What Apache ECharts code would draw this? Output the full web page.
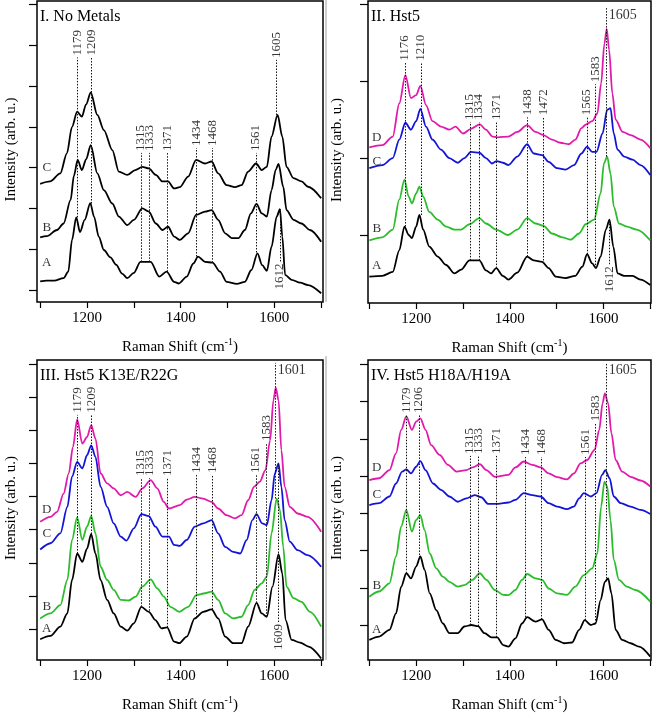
<!DOCTYPE html>
<html>
<head>
<meta charset="utf-8">
<script src="https://cdn.jsdelivr.net/npm/echarts@6/dist/echarts.min.js"></script>
<style>
  html, body { margin: 0; padding: 0; background: #fff; }
  #main { width: 655px; height: 718px; }
</style>
</head>
<body>
<div id="main"></div>
<script>
var chart = echarts.init(document.getElementById('main'));
var FONT = 'Liberation Serif';

var BLACK = '#000000', GREEN = '#2bbd2b', BLUE = '#1414d8', PINK = '#e21aab';

// ---- I. No Metals ----
var noMetalA = [[1100,0.21],[1114,0.23],[1130,0.23],[1150,0.29],[1160,0.45],[1168,1.23],[1177,1.78],[1185,1.42],[1195,1.72],[1207,2.13],[1215,1.80],[1225,1.31],[1236,0.98],[1250,0.80],[1262,0.62],[1275,0.40],[1286,0.29],[1300,0.42],[1314,0.69],[1325,0.69],[1336,0.69],[1354,0.33],[1370,0.45],[1386,0.20],[1396,0.16],[1413,0.33],[1427,0.65],[1437,0.82],[1452,0.69],[1468,0.67],[1484,0.45],[1498,0.20],[1520,0.15],[1537,0.20],[1551,0.49],[1564,0.90],[1574,0.61],[1584,0.47],[1594,1.06],[1605,1.80],[1612,1.98],[1617,1.31],[1623,0.37],[1637,0.25],[1655,0.18],[1672,0.12],[1700,-0.08]];
var noMetalB = [[1100,1.29],[1114,1.32],[1136,1.47],[1150,1.63],[1165,2.21],[1172,2.80],[1180,3.19],[1189,2.94],[1198,3.20],[1208,3.55],[1222,2.86],[1236,2.45],[1254,2.12],[1268,1.80],[1286,1.59],[1300,1.72],[1318,2.00],[1332,1.92],[1347,1.63],[1361,1.47],[1373,1.55],[1386,1.31],[1398,1.23],[1416,1.39],[1433,1.84],[1452,1.92],[1466,1.96],[1480,1.72],[1495,1.39],[1509,1.27],[1523,1.27],[1537,1.47],[1550,1.88],[1562,2.11],[1573,1.88],[1584,1.80],[1594,2.45],[1603,2.95],[1609,3.09],[1619,2.53],[1626,1.96],[1641,1.72],[1658,1.63],[1676,1.47],[1700,1.18]];
var noMetalC = [[1100,2.60],[1121,2.66],[1143,2.86],[1157,3.35],[1168,4.00],[1179,4.37],[1189,4.25],[1198,4.55],[1208,4.84],[1222,4.29],[1236,3.92],[1254,3.43],[1268,2.90],[1286,2.82],[1303,2.94],[1318,3.02],[1332,2.98],[1347,2.82],[1361,2.66],[1373,2.66],[1386,2.49],[1398,2.52],[1416,2.78],[1433,3.19],[1452,3.10],[1466,3.15],[1480,2.86],[1498,2.57],[1516,2.52],[1530,2.57],[1544,2.90],[1561,3.10],[1573,2.94],[1584,3.02],[1594,3.76],[1607,4.29],[1617,3.76],[1626,3.02],[1641,2.74],[1658,2.66],[1672,2.53],[1700,2.25]];
var noMetalPeaks = [[1179,1.78,5.70,'up'],[1209,2.12,5.70,'up'],[1315,0.69,3.36,'up'],[1333,0.69,3.36,'up'],[1371,0.45,3.36,'up'],[1434,0.82,3.48,'up'],[1468,0.67,3.48,'up'],[1561,0.92,3.36,'up'],[1605,4.29,5.64,'up'],[1612,0.70,1.98,'down']];
var noMetalLetters = [[1114,0.66,'A'],[1114,1.52,'B'],[1114,2.99,'C']];

// ---- II. Hst5 ----
var hst5A = [[1100,-0.54],[1128,-0.53],[1150,-0.48],[1164,-0.20],[1175,0.11],[1184,0.00],[1191,-0.04],[1200,0.11],[1207,0.26],[1215,0.07],[1228,-0.15],[1246,-0.28],[1264,-0.39],[1282,-0.50],[1296,-0.45],[1314,-0.33],[1335,-0.33],[1349,-0.46],[1360,-0.50],[1371,-0.43],[1385,-0.53],[1397,-0.58],[1416,-0.49],[1437,-0.28],[1451,-0.33],[1469,-0.35],[1483,-0.43],[1498,-0.54],[1519,-0.56],[1540,-0.53],[1555,-0.41],[1565,-0.25],[1576,-0.37],[1584,-0.43],[1594,-0.28],[1605,0.07],[1613,0.20],[1621,-0.15],[1630,-0.50],[1644,-0.53],[1662,-0.53],[1679,-0.58],[1700,-0.65]];
var hst5B = [[1100,-0.07],[1128,-0.03],[1150,0.07],[1164,0.46],[1175,0.72],[1184,0.50],[1191,0.41],[1200,0.54],[1207,0.63],[1215,0.50],[1228,0.30],[1246,0.20],[1264,0.11],[1282,0.07],[1296,0.07],[1314,0.14],[1335,0.22],[1349,0.15],[1371,0.07],[1396,0.00],[1416,0.07],[1437,0.22],[1455,0.15],[1472,0.12],[1490,0.02],[1512,-0.03],[1530,-0.06],[1548,0.02],[1562,0.14],[1580,0.20],[1594,0.54],[1601,0.93],[1608,1.02],[1615,0.80],[1622,0.37],[1633,0.15],[1650,0.11],[1671,0.07],[1700,-0.07]];
var hst5C = [[1100,0.87],[1128,0.91],[1150,1.00],[1164,1.24],[1177,1.46],[1189,1.37],[1200,1.48],[1209,1.64],[1221,1.41],[1235,1.24],[1253,1.11],[1271,1.00],[1289,0.94],[1303,1.00],[1317,1.08],[1335,1.07],[1349,1.00],[1362,0.93],[1372,0.96],[1385,0.94],[1397,0.91],[1416,1.02],[1437,1.18],[1451,1.06],[1469,1.04],[1483,0.95],[1501,0.87],[1519,0.85],[1537,0.91],[1553,1.06],[1565,1.15],[1576,1.08],[1585,1.08],[1598,1.32],[1608,1.63],[1615,1.65],[1622,1.32],[1630,1.11],[1644,1.02],[1662,0.98],[1679,0.91],[1700,0.78]];
var hst5D = [[1100,1.14],[1128,1.17],[1150,1.28],[1164,1.71],[1177,2.08],[1189,1.78],[1200,1.82],[1209,1.94],[1221,1.69],[1235,1.48],[1253,1.41],[1271,1.37],[1284,1.41],[1300,1.32],[1317,1.38],[1336,1.44],[1349,1.37],[1363,1.28],[1374,1.27],[1397,1.28],[1416,1.34],[1437,1.43],[1455,1.34],[1472,1.30],[1490,1.24],[1508,1.20],[1526,1.18],[1540,1.24],[1553,1.39],[1563,1.44],[1576,1.48],[1587,1.58],[1595,1.97],[1602,2.49],[1607,2.68],[1612,2.41],[1619,1.84],[1626,1.50],[1641,1.34],[1658,1.30],[1679,1.24],[1700,1.13]];
var hst5Peaks = [[1176,0.11,2.24,'up'],[1210,0.26,2.24,'up'],[1315,-0.33,1.47,'up'],[1334,-0.33,1.47,'up'],[1371,-0.43,1.47,'up'],[1438,-0.28,1.53,'up'],[1472,-0.37,1.53,'up'],[1565,-0.25,1.53,'up'],[1583,-0.43,1.96,'up'],[1605,1.02,2.95,'flat'],[1612,-0.38,0.20,'down']];
var hst5Letters = [[1116,-0.40,'A'],[1116,0.08,'B'],[1116,0.96,'C'],[1116,1.27,'D']];

// ---- III. Hst5 K13E/R22G ----
var k13A = [[1100,-0.31],[1122,-0.21],[1143,0.07],[1158,0.47],[1168,1.48],[1179,2.28],[1190,2.03],[1200,2.43],[1209,2.87],[1218,2.28],[1229,1.48],[1243,0.88],[1257,0.47],[1272,0.07],[1286,-0.05],[1300,0.17],[1316,0.67],[1332,0.52],[1346,0.27],[1359,0.02],[1371,0.05],[1386,-0.38],[1397,-0.43],[1413,-0.23],[1430,0.32],[1448,0.52],[1466,0.59],[1480,0.32],[1495,-0.23],[1512,-0.43],[1530,-0.43],[1544,0.07],[1562,0.79],[1573,0.47],[1584,0.37],[1596,1.28],[1609,2.26],[1617,1.68],[1624,0.27],[1637,-0.33],[1655,-0.41],[1673,-0.53],[1700,-0.89]];
var k13B = [[1100,0.32],[1122,0.47],[1143,0.72],[1158,1.48],[1168,2.69],[1179,3.37],[1190,2.69],[1200,3.09],[1209,3.41],[1218,2.89],[1229,1.88],[1243,1.48],[1257,1.18],[1272,0.88],[1289,0.86],[1304,0.98],[1318,1.28],[1336,1.50],[1350,1.23],[1364,0.98],[1378,0.67],[1397,0.52],[1416,0.67],[1434,1.03],[1452,1.08],[1466,1.13],[1480,0.88],[1495,0.47],[1512,0.32],[1530,0.37],[1544,0.72],[1558,1.18],[1573,1.38],[1584,1.58],[1594,2.89],[1605,3.94],[1612,3.59],[1619,2.48],[1626,1.28],[1641,0.93],[1658,0.82],[1676,0.52],[1700,0.07]];
var k13C = [[1100,2.40],[1122,2.59],[1143,2.89],[1158,3.69],[1168,4.60],[1179,5.05],[1190,4.85],[1200,5.25],[1209,5.55],[1218,5.20],[1229,4.30],[1243,3.69],[1257,3.19],[1272,2.79],[1284,2.67],[1300,3.04],[1316,3.47],[1332,3.41],[1346,3.09],[1361,2.79],[1375,2.79],[1386,2.54],[1398,2.51],[1413,2.69],[1430,3.09],[1448,3.19],[1466,3.29],[1480,2.89],[1495,2.48],[1512,2.33],[1527,2.28],[1541,2.69],[1553,3.29],[1562,3.47],[1574,3.19],[1584,3.14],[1594,3.89],[1601,4.70],[1609,5.00],[1615,4.30],[1622,3.29],[1633,2.64],[1650,2.38],[1671,2.23],[1700,1.88]];
var k13D = [[1100,3.24],[1122,3.39],[1136,3.54],[1150,4.09],[1161,4.70],[1170,5.50],[1179,6.33],[1190,5.60],[1200,5.80],[1209,6.16],[1218,5.75],[1229,4.70],[1243,4.40],[1257,4.25],[1272,4.04],[1286,4.14],[1304,3.99],[1318,4.25],[1336,4.50],[1350,4.25],[1364,3.84],[1375,3.64],[1398,3.74],[1413,3.91],[1430,3.99],[1448,3.94],[1466,3.84],[1480,3.64],[1498,3.44],[1516,3.34],[1530,3.44],[1544,3.89],[1557,4.30],[1569,4.45],[1581,4.80],[1591,5.70],[1598,6.91],[1603,7.29],[1609,6.91],[1615,5.40],[1622,4.30],[1633,3.69],[1650,3.49],[1671,3.39],[1700,2.94]];
var k13Peaks = [[1179,2.28,6.47,'up'],[1209,2.87,6.47,'up'],[1315,0.67,4.56,'up'],[1333,0.55,4.56,'up'],[1371,0.05,4.56,'up'],[1434,0.35,4.65,'up'],[1468,0.59,4.65,'up'],[1561,0.79,4.65,'up'],[1583,0.37,5.62,'up'],[1601,3.94,8.04,'flat'],[1609,0.21,5.00,'down']];
var k13Letters = [[1114,0.00,'A'],[1114,0.69,'B'],[1114,2.87,'C'],[1114,3.60,'D']];

// ---- IV. Hst5 H18A/H19A ----
var h18A = [[1100,-0.40],[1121,-0.31],[1143,-0.13],[1157,0.31],[1168,1.03],[1179,1.39],[1189,1.25],[1200,1.57],[1209,1.84],[1218,1.48],[1229,0.85],[1243,0.40],[1257,0.04],[1271,-0.22],[1289,-0.22],[1303,-0.04],[1318,0.00],[1332,-0.03],[1346,-0.22],[1361,-0.33],[1373,-0.33],[1386,-0.54],[1397,-0.58],[1412,-0.36],[1426,0.04],[1437,0.21],[1455,0.09],[1469,0.15],[1483,-0.13],[1498,-0.40],[1516,-0.49],[1533,-0.47],[1548,-0.13],[1560,0.13],[1573,0.00],[1583,0.04],[1594,0.67],[1603,1.16],[1610,1.25],[1617,0.85],[1626,-0.13],[1640,-0.40],[1658,-0.49],[1676,-0.58],[1700,-0.85]];
var h18B = [[1100,0.76],[1121,0.90],[1143,1.12],[1157,1.84],[1168,2.64],[1179,3.09],[1191,2.51],[1200,2.82],[1209,2.95],[1218,2.55],[1229,1.92],[1243,1.52],[1257,1.30],[1271,1.16],[1289,1.03],[1303,1.07],[1320,1.21],[1336,1.39],[1350,1.21],[1368,0.94],[1386,0.81],[1397,0.80],[1412,0.94],[1426,1.21],[1437,1.37],[1455,1.25],[1469,1.21],[1483,0.98],[1501,0.85],[1522,0.81],[1540,1.03],[1558,1.34],[1576,1.52],[1587,1.92],[1595,3.18],[1602,3.85],[1608,3.72],[1615,2.82],[1622,1.75],[1633,1.21],[1650,1.03],[1668,0.94],[1700,0.63]];
var h18C = [[1100,3.22],[1121,3.27],[1143,3.45],[1157,3.80],[1170,4.12],[1179,4.18],[1189,4.07],[1200,4.25],[1209,4.40],[1220,4.16],[1236,3.80],[1253,3.63],[1271,3.45],[1289,3.31],[1307,3.40],[1325,3.49],[1339,3.43],[1354,3.25],[1375,3.25],[1397,3.29],[1412,3.36],[1430,3.54],[1448,3.49],[1466,3.45],[1483,3.27],[1501,3.18],[1522,3.11],[1537,3.18],[1548,3.40],[1558,3.54],[1573,3.45],[1585,3.54],[1597,4.03],[1604,4.16],[1613,3.94],[1622,3.45],[1637,3.27],[1658,3.18],[1679,3.09],[1700,2.98]];
var h18D = [[1100,3.89],[1121,3.94],[1143,4.16],[1157,4.61],[1168,5.24],[1179,5.60],[1191,5.24],[1200,5.46],[1209,5.55],[1220,5.24],[1232,4.83],[1250,4.57],[1268,4.30],[1286,4.12],[1307,4.16],[1321,4.23],[1336,4.32],[1350,4.16],[1368,3.98],[1397,4.03],[1412,4.23],[1430,4.39],[1448,4.30],[1466,4.23],[1483,4.07],[1501,3.97],[1522,3.91],[1537,4.07],[1551,4.34],[1565,4.43],[1581,4.70],[1591,5.24],[1598,5.95],[1603,6.22],[1610,5.95],[1617,5.15],[1626,4.43],[1640,4.12],[1658,3.98],[1679,3.88],[1700,3.72]];
var h18Peaks = [[1179,1.39,5.64,'up'],[1206,1.80,5.64,'up'],[1315,0.00,4.54,'up'],[1333,-0.03,4.54,'up'],[1371,-0.33,4.54,'up'],[1434,0.21,4.51,'up'],[1468,0.15,4.51,'up'],[1561,0.13,4.51,'up'],[1583,0.04,5.42,'up'],[1605,1.25,7.04,'flat']];
var h18Letters = [[1116,-0.11,'A'],[1116,1.07,'B'],[1116,3.49,'C'],[1116,4.22,'D']];

var xTicks = [1100, 1200, 1300, 1400, 1500, 1600, 1700];
var xLabels = [1200, 1400, 1600];

var panels = [
  { title: 'I. No Metals', box: { left: 37, top: 1, width: 286, height: 301 }, x: [1093.2, 1703.9], y: [-0.294, 7.083], yTicks: [0,1,2,3,4,5,6,7], yNameX: 11,
    curves: [[noMetalA, BLACK], [noMetalB, BLACK], [noMetalC, BLACK]], peaks: noMetalPeaks, letters: noMetalLetters },
  { title: 'II. Hst5', box: { left: 368, top: 1, width: 283, height: 302 }, x: [1097.2, 1701.5], y: [-0.884, 3.043], yTicks: [0,1,2,3], yNameX: 337,
    curves: [[hst5A, BLACK], [hst5B, GREEN], [hst5C, BLUE], [hst5D, PINK]], peaks: hst5Peaks, letters: hst5Letters },
  { title: 'III. Hst5 K13E/R22G', box: { left: 37, top: 360, width: 286, height: 300 }, x: [1093.2, 1703.9], y: [-0.937, 8.127], yTicks: [0,1,2,3,4,5,6,7,8], yNameX: 11,
    curves: [[k13A, BLACK], [k13B, GREEN], [k13C, BLUE], [k13D, PINK]], peaks: k13Peaks, letters: k13Letters },
  { title: 'IV. Hst5 H18A/H19A', box: { left: 368, top: 360, width: 283, height: 300 }, x: [1097.2, 1701.5], y: [-0.94, 7.116], yTicks: [0,1,2,3,4,5,6,7], yNameX: 337,
    curves: [[h18A, BLACK], [h18B, GREEN], [h18C, BLUE], [h18D, PINK]], peaks: h18Peaks, letters: h18Letters }
];

var grids = [], xAxes = [], yAxes = [], titles = [], series = [], graphics = [];

panels.forEach(function (p, i) {
  grids.push({ left: p.box.left, top: p.box.top, width: p.box.width, height: p.box.height,
    show: true, borderColor: '#000', borderWidth: 1.5, backgroundColor: 'transparent' });

  xAxes.push({
    type: 'value', gridIndex: i, min: p.x[0], max: p.x[1],
    axisLine: { show: false, onZero: false },
    axisTick: { show: true, inside: false, length: 6, customValues: xTicks, lineStyle: { color: '#000', width: 1.2 } },
    axisLabel: { customValues: xLabels, margin: 9, color: '#000', fontFamily: FONT, fontSize: 15,
      formatter: function (v) { return String(v); } },
    splitLine: { show: false }
  });

  yAxes.push({
    type: 'value', gridIndex: i, min: p.y[0], max: p.y[1],
    axisLine: { show: false, onZero: false },
    axisTick: { show: true, inside: false, length: 8, customValues: p.yTicks, lineStyle: { color: '#000', width: 1.2 } },
    axisLabel: { show: false },
    splitLine: { show: false }
  });

  titles.push({ text: p.title, left: p.box.left + 3, top: p.box.top + 8, padding: 0,
    textStyle: { fontFamily: FONT, fontSize: 16, fontWeight: 'normal', color: '#000' } });

  // axis titles as plain text elements
  graphics.push({
    type: 'text', silent: true,
    x: p.box.left + p.box.width / 2, y: p.box.top + p.box.height + 45,
    style: { text: 'Raman Shift (cm{sup|-1})', fontFamily: FONT, fontSize: 15, fill: '#000',
      align: 'center', verticalAlign: 'middle',
      rich: { sup: { fontFamily: FONT, fontSize: 10, fill: '#000', verticalAlign: 'top', padding: [0, 0, 10, 0] } } }
  });
  graphics.push({
    type: 'text', silent: true, rotation: Math.PI / 2,
    x: p.yNameX, y: p.box.top + p.box.height / 2 - 2,
    style: { text: 'Intensity (arb. u.)', fontFamily: FONT, fontSize: 15, fill: '#000',
      align: 'center', verticalAlign: 'middle' }
  });

  // dotted peak markers + their labels
  series.push({
    type: 'scatter', xAxisIndex: i, yAxisIndex: i, symbolSize: 0, silent: true, z: 1,
    data: p.peaks.map(function (k) {
      var lbl;
      if (k[3] === 'up') {
        lbl = { show: true, position: 'inside', rotate: 90, align: 'left', verticalAlign: 'middle', padding: [0, 0, 0, 2] };
        return { value: [k[0], k[2]], name: String(k[0]), label: lbl };
      } else if (k[3] === 'down') {
        lbl = { show: true, position: 'inside', rotate: 90, align: 'right', verticalAlign: 'middle', padding: [0, 2, 0, 0] };
        return { value: [k[0], k[1]], name: String(k[0]), label: lbl };
      }
      lbl = { show: true, position: 'inside', rotate: 0, align: 'left', verticalAlign: 'top', padding: [0, 0, 0, 3], fontSize: 14 };
      return { value: [k[0], k[2]], name: String(k[0]), label: lbl };
    }),
    label: { formatter: '{b}', color: '#000', fontFamily: FONT, fontSize: 13 },
    markLine: {
      silent: true, symbol: ['none', 'none'], animation: false,
      lineStyle: { type: [1.5, 1.5], color: '#111', width: 1 },
      label: { show: false },
      data: p.peaks.map(function (k) {
        return [{ coord: [k[0], k[1]] }, { coord: [k[0], k[2]] }];
      })
    }
  });

  // curve letters
  series.push({
    type: 'scatter', xAxisIndex: i, yAxisIndex: i, symbolSize: 0, silent: true,
    data: p.letters.map(function (l) { return { value: [l[0], l[1]], name: l[2] }; }),
    label: { show: true, position: 'inside', formatter: '{b}', color: '#000', fontFamily: FONT, fontSize: 13 }
  });

  p.curves.forEach(function (c) {
    series.push({
      type: 'line', xAxisIndex: i, yAxisIndex: i, data: c[0],
      showSymbol: false, smooth: 0.3, smoothMonotone: 'x', z: 3,
      lineStyle: { color: c[1], width: 1.8 }, itemStyle: { color: c[1] }
    });
  });
});

// faint separator left of the right-hand panels
graphics.push({ type: 'line', silent: true, shape: { x1: 326, y1: 0, x2: 326, y2: 302 }, style: { stroke: '#cfcfcf', lineWidth: 2 } });
graphics.push({ type: 'line', silent: true, shape: { x1: 326, y1: 356, x2: 326, y2: 660 }, style: { stroke: '#cfcfcf', lineWidth: 2 } });

chart.setOption({
  backgroundColor: '#fff',
  animation: false,
  textStyle: { fontFamily: FONT },
  title: titles,
  grid: grids,
  xAxis: xAxes,
  yAxis: yAxes,
  series: series,
  graphic: graphics
});
</script>
</body>
</html>
